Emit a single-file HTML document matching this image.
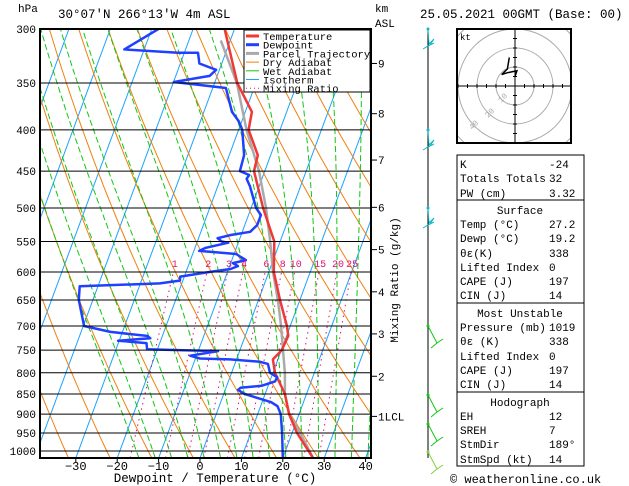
<!DOCTYPE html>
<html><head><meta charset="utf-8"><style>
body{margin:0;background:#fff;width:629px;height:486px;overflow:hidden}
svg{display:block;font-family:"Liberation Mono","DejaVu Sans Mono",monospace}
text{font-size:11px;fill:#000}
</style></head><body>
<svg id="c" width="629" height="486" viewBox="0 0 629 486">
<defs><clipPath id="pc"><rect x="40" y="29" width="331" height="429"/></clipPath>
<clipPath id="hc"><rect x="457" y="29" width="114" height="114"/></clipPath></defs>
<g id="bg" clip-path="url(#pc)"></g>
<g id="series" clip-path="url(#pc)"></g>
<g id="axes"></g>
<text x="18" y="12">hPa</text>
<text x="58" y="18" style="font-size:12.5px">30°07'N  266°13'W  4m  ASL</text>
<text x="375" y="12">km</text>
<text x="375" y="27">ASL</text>
<text x="420" y="18" style="font-size:12.5px">25.05.2021 00GMT (Base: 00)</text>
<text x="215" y="482" text-anchor="middle" style="font-size:12.5px">Dewpoint / Temperature (°C)</text>
<text transform="translate(398,280) rotate(-90)" text-anchor="middle">Mixing Ratio (g/kg)</text>
<g id="legend">
<rect x="244" y="30" width="126" height="62" fill="#fff" stroke="#000" stroke-width="1"/>
</g>
<g id="hodo"></g>
<g id="barbs"></g>
<g id="table"></g>
<text x="450" y="483" style="font-size:12px">© weatheronline.co.uk</text>
</svg>
<script>
const presLevels=[300,350,400,450,500,550,600,650,700,750,800,850,900,950,1000];
const tempTicks=[-30,-20,-10,0,10,20,30,40];
const kmLabels=["9","8","7","6","5","4","3","2","1LCL"];
const kmPres=[331,382,436,499,563,635,716,808,906];
const mixRatios=[1,2,3,4,6,8,10,15,20,25];
const tempP=[1020,950,900,850,800,770,750,720,700,650,600,550,500,450,430,400,380,350,300];
const tempT=[27.3,21.2,17.6,14.8,10.5,8.8,10.1,10.4,9.2,5.2,1.2,-1.4,-7.1,-12.6,-13.1,-17.6,-18.4,-24.5,-32.4];
const dewP=[1020,950,900,880,870,860,850,840,835,830,820,810,800,780,775,770,768,762,752,750,748,735,730,725,720,712,700,650,625,620,615,608,600,595,590,585,580,575,570,565,560,552,550,545,540,535,525,510,500,470,460,455,450,430,400,390,380,355,349,343,337,331,321,321,318,300];
const dewT=[20,17.6,15.6,14.1,12.2,8.6,5.1,3.1,3.5,8.5,11.3,11.4,9.3,8.0,5.8,-1.6,-8.9,-11.5,-5.2,-13.8,-22.5,-23.2,-30.3,-22.7,-23.7,-32.9,-39.8,-43.4,-44.4,-25.3,-20.7,-21.0,-14.2,-9.5,-8.0,-9.5,-6.6,-8.1,-9.5,-18.7,-17.4,-12.4,-14.1,-15.4,-12.5,-8.1,-7.0,-7.0,-8.8,-12.2,-13.7,-13.4,-16,-16.4,-19.1,-20.8,-23.2,-26.8,-39.9,-31.8,-30.8,-35.4,-36.7,-41.5,-54.8,-48.4];
const parcelP=[1020,950,900,850,800,750,700,650,600,550,500,450,400,350,310];
const parcelT=[27.3,22,17.6,14.8,12.9,10.4,7.8,4.7,1.0,-2.4,-6.4,-11.4,-18.1,-24.6,-32.3];
const hodoU=[-3,-4,-7,-4,1,0];
const hodoV=[15,9,6,7,8,5];

const NS='http://www.w3.org/2000/svg';
const X0=200,SX=4.14,SK=0.37,YB=458;
function yP(p){return 29+350.5*Math.log(p/300);}
function xT(t,p){return X0+SX*t+SK*(YB-yP(p));}
function mk(tag,attrs,parent){const e=document.createElementNS(NS,tag);for(const k in attrs)e.setAttribute(k,attrs[k]);parent.appendChild(e);return e;}
function poly(pts){return pts.map(q=>q[0].toFixed(1)+','+q[1].toFixed(1)).join(' ');}
const bg=document.getElementById('bg'),ser=document.getElementById('series'),ax=document.getElementById('axes');
for(let t=-110;t<=40;t+=10){const l=mk('line',{x1:xT(t,1020),y1:YB,x2:xT(t,300),y2:29,stroke:'#1aa3ff','stroke-width':1},bg);

}
for(let th=240;th<=500;th+=10){const pts=[];for(let p=1020;p>=300;p-=10){pts.push([xT(th*Math.pow(p/1000,0.286)-273.15,p),yP(p)]);}
const l=mk('polyline',{points:poly(pts),fill:'none',stroke:'#f08010','stroke-width':1},bg);

}
function es(t){return 6.112*Math.exp(17.67*t/(t+243.5));}
for(let t0=-16;t0<=40;t0+=4){let T=t0+273.15;const pts=[];for(let p=1000;p>=300;p-=5){pts.push([xT(T-273.15,p),yP(p)]);const rs=0.622*es(T-273.15)/(p-es(T-273.15));const d=(287*T+2.5e6*rs)/(p*(1004+2.5e6*2.5e6*rs*0.622/(287*T*T)));T-=d*5;}
const back=[];let T2=t0+273.15;for(let p=1000;p<=1020;p+=5){back.push([xT(T2-273.15,p),yP(p)]);const rs=0.622*es(T2-273.15)/(p-es(T2-273.15));T2+=(287*T2+2.5e6*rs)/(p*(1004+2.5e6*2.5e6*rs*0.622/(287*T2*T2)))*5;}
const l=mk('polyline',{points:poly(back.reverse().concat(pts)),fill:'none',stroke:'#10c810','stroke-width':1,'stroke-dasharray':'6,3'},bg);

}
function tdW(w,p){const e=w*p/(622+w);const a=Math.log(e/6.112);return 243.5*a/(17.67-a);}
mixRatios.forEach(w=>{const l=mk('line',{x1:xT(tdW(w,1020),1020),y1:YB,x2:xT(tdW(w,600),600),y2:yP(600),stroke:'#e0107a','stroke-width':1,'stroke-dasharray':'1.5,4'},bg);


const t=mk('text',{x:xT(tdW(w,590),590),y:yP(590)+1,'text-anchor':'middle',style:'font-size:10px;fill:#e0107a'},ax);t.textContent=w;

});
presLevels.forEach(p=>{const y=yP(p);const l=mk('line',{x1:40,y1:y,x2:371,y2:y,stroke:'#000','stroke-width':1},ax);


const t=mk('text',{x:36,y:y+4,'text-anchor':'end'},ax);t.textContent=p;

});
tempTicks.forEach(t=>{const x=X0+SX*t;mk('line',{x1:x,y1:YB,x2:x,y2:YB+4,stroke:'#000'},ax);const e=mk('text',{x:x,y:470,'text-anchor':'middle',style:'font-size:12px'},ax);e.textContent=t===0?'0':(t<0?'−'+(-t):t);

});
kmLabels.forEach((k,i)=>{const y=yP(kmPres[i]);mk('line',{x1:371,y1:y,x2:377,y2:y,stroke:'#000'},ax);const e=mk('text',{x:378,y:y+4},ax);e.textContent=k;

});
mk('rect',{x:40,y:29,width:331,height:429,fill:'none',stroke:'#000','stroke-width':2},ax);
function series(P,T,col,w,name){const pts=P.map((p,i)=>[xT(T[i],p),yP(p)]);const l=mk('polyline',{points:poly(pts),fill:'none',stroke:col,'stroke-width':w,'stroke-linejoin':'round'},ser);

}
series(parcelP,parcelT,'#aaaaaa',2.5,'parcel-trajectory');
series(tempP,tempT,'#f03838',2.5,'temperature-line');
series(dewP,dewT,'#2040ff',2.5,'dewpoint-line');
const lg=document.getElementById('legend');
const items=[['Temperature','#f03838',3,''],['Dewpoint','#2040ff',3,''],['Parcel Trajectory','#aaaaaa',3,''],['Dry Adiabat','#f08010',1,''],['Wet Adiabat','#10c810',1,''],['Isotherm','#1aa3ff',1,''],['Mixing Ratio','#e0107a',1,'1,3']];
items.forEach((it,i)=>{const y=36+i*8.7;mk('line',{x1:246,y1:y,x2:259,y2:y,stroke:it[1],'stroke-width':it[2],'stroke-dasharray':it[3]},lg);const t=mk('text',{x:263,y:y+4,style:'font-size:10.5px'},lg);t.textContent=it[0];

});
const h=document.getElementById('hodo');const cx=515,cy=86,k=1.9;
const hg=mk('g',{'clip-path':'url(#hc)'},h);
[10,20,30,40].forEach(r=>mk('circle',{cx:cx,cy:cy,r:r*k,fill:'none',stroke:'#aaa'},hg));
mk('line',{x1:457,y1:cy,x2:571,y2:cy,stroke:'#000'},hg);mk('line',{x1:cx,y1:29,x2:cx,y2:143,stroke:'#000'},hg);
for(let i=-6;i<=6;i++){if(!i)continue;mk('line',{x1:cx+i*9.5,y1:cy-2,x2:cx+i*9.5,y2:cy+2,stroke:'#000'},hg);mk('line',{x1:cx-2,y1:cy+i*9.5,x2:cx+2,y2:cy+i*9.5,stroke:'#000'},hg);}
[['10',501,103],['20',488,118],['40',472,130]].forEach(a=>{const t=mk('text',{x:a[1],y:a[2],style:'font-size:8px;fill:#aaa',transform:`rotate(-45 ${a[1]} ${a[2]})`},hg);t.textContent=a[0];});
mk('polyline',{points:poly(hodoU.map((u,i)=>[cx+u*k,cy-hodoV[i]*k])),fill:'none',stroke:'#000','stroke-width':1.5},hg);
mk('rect',{x:457,y:29,width:114,height:114,fill:'none',stroke:'#000','stroke-width':2},h);
const kt=mk('text',{x:460,y:40,style:'font-size:9px'},h);kt.textContent='kt';
const b=document.getElementById('barbs');mk('line',{x1:428,y1:29,x2:428,y2:458,stroke:'#000'},b);
[[29,'#10b8c8'],[130,'#10b8c8'],[208,'#10b8c8']].forEach(a=>{const y=a[0];mk('polyline',{points:`428,${y} 429,${y+15} 434,${y+10} 430,${y+16} 434,${y+14} 428,${y+17} 423,${y+20}`,fill:'none',stroke:a[1]},b);mk('circle',{cx:428,cy:y,r:1.5,fill:a[1]},b);});
[[326,'#10c810'],[395,'#10c810'],[424,'#10c810'],[452,'#80d040']].forEach(a=>{const y=a[0];mk('polyline',{points:`428,${y} 437,${y+17} 431,${y+22}`,fill:'none',stroke:a[1]},b);mk('polyline',{points:`437,${y+17} 443,${y+13}`,fill:'none',stroke:a[1]},b);mk('circle',{cx:428,cy:y,r:1.5,fill:a[1]},b);});
const tb=document.getElementById('table');
const boxes=[[155,200],[200,303],[303,392],[392,466]];
boxes.forEach(bx=>mk('rect',{x:457,y:bx[0],width:127,height:bx[1]-bx[0],fill:'none',stroke:'#000','stroke-width':1},tb));
const rows=[['K','-24',164],['Totals Totals','32',178],['PW (cm)','3.32',193],['#Surface','',210],['Temp (°C)','27.2',224],['Dewp (°C)','19.2',238],['θε(K)','338',253],['Lifted Index','0',267],['CAPE (J)','197',281],['CIN (J)','14',295],['#Most Unstable','',313],['Pressure (mb)','1019',327],['θε (K)','338',341],['Lifted Index','0',356],['CAPE (J)','197',370],['CIN (J)','14',384],['#Hodograph','',402],['EH','12',416],['SREH','7',430],['StmDir','189°',444],['StmSpd (kt)','14',459]];
rows.forEach(r=>{if(r[0][0]==='#'){const t=mk('text',{x:520,y:r[2]+4,'text-anchor':'middle'},tb);t.textContent=r[0].slice(1);

return;}
const a=mk('text',{x:460,y:r[2]+4},tb);a.textContent=r[0];


const v=mk('text',{x:549,y:r[2]+4},tb);v.textContent=r[1];

});
</script>
</body></html>
